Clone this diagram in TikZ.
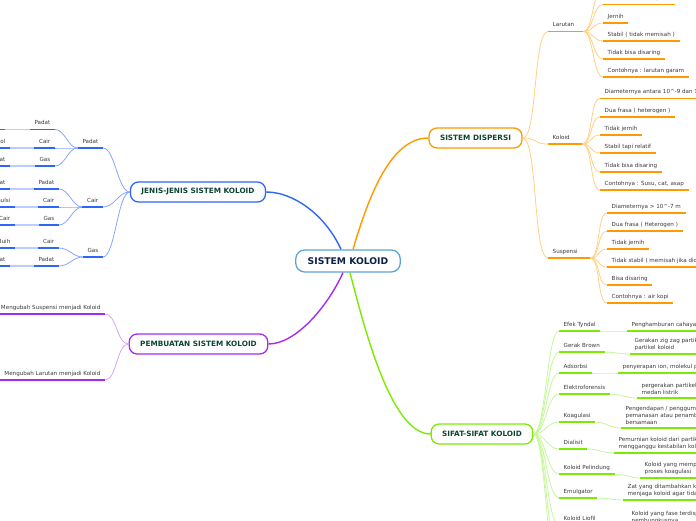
\documentclass[tikz,border=0pt]{standalone}
\usepackage{fontspec}
\setmainfont{DejaVu Sans}

\definecolor{hubline}{HTML}{5BA4DA}
\definecolor{hubtext}{HTML}{0D1F45}
\definecolor{branchtext}{HTML}{0F4431}
\definecolor{itemtext}{HTML}{3A3A3A}
\definecolor{orgmain}{HTML}{FF9900}
\definecolor{orglight}{HTML}{FFCF85}
\definecolor{grnmain}{HTML}{7CEB00}
\definecolor{grnlight}{HTML}{C6F79A}
\definecolor{blumain}{HTML}{2E66F5}
\definecolor{blulight}{HTML}{86A6FF}
\definecolor{blupale}{HTML}{BACDFC}
\definecolor{prpmain}{HTML}{A52BEE}
\definecolor{prplight}{HTML}{D9A3F5}

\tikzset{
  hub/.style={draw=hubline, line width=1.3pt, rounded corners=9pt, fill=white,
    minimum height=22pt, inner xsep=12pt, text=hubtext,
    font=\fontsize{9.2}{11}\selectfont\bfseries},
  branch/.style={line width=1.3pt, rounded corners=8pt, fill=white,
    minimum height=20pt, inner xsep=11pt, text=branchtext,
    font=\fontsize{7.3}{9}\selectfont\bfseries},
  item/.style={font=\fontsize{5.6}{7}\selectfont, text=itemtext,
    inner xsep=4.5pt, inner ysep=3pt, text height=4.2pt, text depth=1.4pt},
  desc/.style={font=\fontsize{5.6}{7}\selectfont, text=itemtext,
    inner xsep=4.5pt, inner ysep=3pt, align=left},
  uline/.style={line width=1.7pt},
  link/.style={line width=0.8pt},
  trunk/.style={line width=1.4pt}
}

\begin{document}
\begin{tikzpicture}[x=1pt,y=-1pt]
\useasboundingbox (0,0) rectangle (696,520);

% Pusat
\node[hub] (hub) at (348,261) {SISTEM KOLOID};

% Cabang utama
\node[branch, draw=orgmain] (disp) at (475.5,138) {SISTEM DISPERSI};
\node[branch, draw=grnmain] (sifat) at (482,434) {SIFAT-SIFAT KOLOID};
\node[branch, draw=blumain] (jenis) at (198,192) {JENIS-JENIS SISTEM KOLOID};
\node[branch, draw=prpmain] (buat) at (198.5,344) {PEMBUATAN SISTEM KOLOID};

\draw[trunk, orgmain] ([xshift=5pt]hub.north) .. controls +(19,-65) and +(-34,0) .. (disp.west);
\draw[trunk, blumain] ([xshift=-7pt]hub.north) .. controls +(-16,-35) and +(27,0) .. (jenis.east);
\draw[trunk, prpmain] ([xshift=-5pt]hub.south) .. controls +(-16,35) and +(27,0) .. (buat.east);
\draw[trunk, grnmain] ([xshift=2pt]hub.south) .. controls +(15,58) and +(-39,0) .. (sifat.west);

% Sistem dispersi
\node[item, anchor=south west, text width=26pt, align=left] (lar) at (548,31.5) {Larutan};
\node[item, anchor=south west, text width=25pt, align=left] (kol) at (548,144) {Koloid};
\node[item, anchor=south west, text width=33pt, align=left] (sus) at (548,258) {Suspensi};

\coordinate (larh) at (603,-13.5);
\node[item, anchor=south west] (lar0) at (603,4.5) {Satu fasa ( homogen )};
\node[item, anchor=south west] (lar1) at (603,23) {Jernih};
\node[item, anchor=south west] (lar2) at (603,41) {Stabil ( tidak memisah )};
\node[item, anchor=south west] (lar3) at (603,59) {Tidak bisa disaring};
\node[item, anchor=south west] (lar4) at (603,77) {Contohnya : larutan garam};

\node[item, anchor=south west] (kol1) at (600,98.5) {Diameternya antara 10\textasciicircum-9 dan 10\textasciicircum-7 m};
\node[item, anchor=south west] (kol2) at (600,117) {Dua frasa ( heterogen )};
\node[item, anchor=south west] (kol3) at (600,135) {Tidak jernih};
\node[item, anchor=south west] (kol4) at (600,153) {Stabil tapi relatif};
\node[item, anchor=south west] (kol5) at (600,172) {Tidak bisa disaring};
\node[item, anchor=south west] (kol6) at (600,190) {Contohnya : Susu, cat, asap};

\node[item, anchor=south west] (sus1) at (607,213) {Diameternya > 10\textasciicircum-7 m};
\node[item, anchor=south west] (sus2) at (607,231) {Dua frasa ( Heterogen )};
\node[item, anchor=south west] (sus3) at (607,249) {Tidak jernih};
\node[item, anchor=south west] (sus4) at (607,267) {Tidak stabil ( memisah jika didiamkan )};
\node[item, anchor=south west] (sus5) at (607,285) {Bisa disaring};
\node[item, anchor=south west] (sus6) at (607,303) {Contohnya : air kopi};

\foreach \n in {lar,kol,sus}
  \draw[link, orglight] (disp.east) .. controls +(15,0) and +(-15,0) .. (\n.south west);
\draw[link, orglight] (lar.south east) .. controls +(10,0) and +(-10,0) .. (larh);
\foreach \n in {lar0,lar1,lar2,lar3,lar4}
  \draw[link, orglight] (lar.south east) .. controls +(10,0) and +(-10,0) .. (\n.south west);
\foreach \n in {kol1,kol2,kol3,kol4,kol5,kol6}
  \draw[link, orglight] (kol.south east) .. controls +(10,0) and +(-10,0) .. (\n.south west);
\foreach \n in {sus1,sus2,sus3,sus4,sus5,sus6}
  \draw[link, orglight] (sus.south east) .. controls +(10,0) and +(-10,0) .. (\n.south west);
\foreach \n in {lar,kol,sus,lar0,lar1,lar2,lar3,lar4,kol1,kol2,kol3,kol4,kol5,kol6,sus1,sus2,sus3,sus4,sus5,sus6}
  \draw[uline, orgmain] (\n.south west) -- (\n.south east);

% Sifat-sifat koloid
\node[item, anchor=south west] (tyn) at (559,331) {Efek Tyndal};
\node[item, anchor=south west] (brw) at (559,352) {Gerak Brown};
\node[item, anchor=south west] (ads) at (559,373) {Adsorbsi};
\node[item, anchor=south west] (elk) at (559,394) {Elektroforensis};
\node[item, anchor=south west] (kgl) at (559,422) {Koagulasi};
\node[item, anchor=south west] (dls) at (559,449) {Dialisit};
\node[item, anchor=south west] (plg) at (559,474) {Koloid Pelindung};
\node[item, anchor=south west] (eml) at (559,498) {Emulgator};
\node[item, anchor=south west] (lfl) at (559,525) {Koloid Liofil};
\coordinate (sfh1) at (559,552);
\coordinate (sfh2) at (559,576);

\node[desc, anchor=south west] (tynd) at (627,331) {Penghamburan cahaya};
\node[desc, anchor=south west] (brwd) at (630,354) {Gerakan zig zag partikel-\\partikel koloid};
\node[desc, anchor=south west] (adsd) at (618,373) {penyerapan ion, molekul pada permukaan};
\node[desc, anchor=south west] (elkd) at (637,398) {pergerakan partikel koloid dalam\\medan listrik};
\node[desc, anchor=south west] (kgld) at (621,428) {Pengendapan / penggumpalan koloid akibat\\pemanasan atau penambahan elektrolit\\bersamaan};
\node[desc, anchor=south west] (dlsd) at (614,453) {Pemurnian koloid dari partikel yang\\mengganggu kestabilan koloid};
\node[desc, anchor=south west] (plgd) at (640,478) {Koloid yang memperlambat\\proses koagulasi};
\node[desc, anchor=south west] (emld) at (623,500) {Zat yang ditambahkan ke emulsi untuk\\menjaga koloid agar tidak memisah};
\node[desc, anchor=south west] (lfld) at (627,527) {Koloid yang fase terdispersinya\\pembungkusnya};

\foreach \n in {tyn,brw,ads,elk,kgl,dls,plg,eml,lfl}
  \draw[link, grnlight] (sifat.east) .. controls +(12,0) and +(-12,0) .. (\n.south west);
\foreach \n in {sfh1,sfh2}
  \draw[link, grnlight] (sifat.east) .. controls +(12,0) and +(-12,0) .. (\n);
\foreach \a/\b in {tyn/tynd,brw/brwd,ads/adsd,elk/elkd,kgl/kgld,dls/dlsd,plg/plgd,eml/emld,lfl/lfld}
  \draw[link, grnlight] (\a.south east) .. controls +(10,0) and +(-10,0) .. (\b.south west);
\foreach \n in {tyn,brw,ads,elk,kgl,dls,plg,eml,lfl,tynd,brwd,adsd,elkd,kgld,dlsd,plgd,emld,lfld}
  \draw[uline, grnmain] (\n.south west) -- (\n.south east);

% Jenis-jenis sistem koloid
\node[item, anchor=south east] (jpad) at (103,148) {Padat};
\node[item, anchor=south east] (jcai) at (103,207) {Cair};
\node[item, anchor=south east] (jgas) at (103,257) {Gas};

\node[item, anchor=south east] (pp) at (55,129.5) {Padat};
\node[item, anchor=south east] (pc) at (55,148) {Cair};
\node[item, anchor=south east] (pg) at (55,166) {Gas};
\node[item, anchor=south east] (cp) at (59,189) {Padat};
\node[item, anchor=south east] (cc) at (59,207) {Cair};
\node[item, anchor=south east] (cg) at (59,225) {Gas};
\node[item, anchor=south east] (gc) at (59,248) {Cair};
\node[item, anchor=south east] (gp) at (59,266) {Padat};

\node[item, anchor=south east] (lpp) at (5,129.5) {Sol padat};
\node[item, anchor=south east] (lpc) at (10,148) {Sol};
\node[item, anchor=south east] (lpg) at (10,166) {Aerosol padat};
\node[item, anchor=south east] (lcp) at (10,189) {Emulsi padat};
\node[item, anchor=south east] (lcc) at (15,207) {Emulsi};
\node[item, anchor=south east] (lcg) at (15,225) {Aerosol Cair};
\node[item, anchor=south east] (lgc) at (15,248) {Buih};
\node[item, anchor=south east] (lgp) at (10,266) {Buih padat};

\foreach \n in {jpad,jcai,jgas}
  \draw[link, blulight] (jenis.west) .. controls +(-12,0) and +(12,0) .. (\n.south east);
\foreach \a/\b in {jpad/pp,jpad/pc,jpad/pg,jcai/cp,jcai/cc,jcai/cg,jgas/gc,jgas/gp}
  \draw[link, blulight] (\a.south west) .. controls +(-10,0) and +(10,0) .. (\b.south east);
\foreach \a/\b in {pp/lpp,pc/lpc,pg/lpg,cp/lcp,cc/lcc,cg/lcg,gc/lgc,gp/lgp}
  \draw[uline, blupale] (\a.south west) -- (\b.south east);
\foreach \n in {jpad,jcai,jgas,pp,pc,pg,cp,cc,cg,gc,gp,lpp,lpc,lpg,lcp,lcc,lcg,lgc,lgp}
  \draw[uline, blumain] (\n.south west) -- (\n.south east);

% Pembuatan sistem koloid
\node[item, anchor=south east] (msus) at (105,314) {Mengubah Suspensi menjadi Koloid};
\node[item, anchor=south east] (mlar) at (105,380) {Mengubah Larutan menjadi Koloid};

\foreach \n in {msus,mlar}
  \draw[link, prplight] (buat.west) .. controls +(-12,0) and +(12,0) .. (\n.south east);
\foreach \n in {msus,mlar}
  \draw[uline, prpmain] (\n.south west) -- (\n.south east);

\end{tikzpicture}
\end{document}
